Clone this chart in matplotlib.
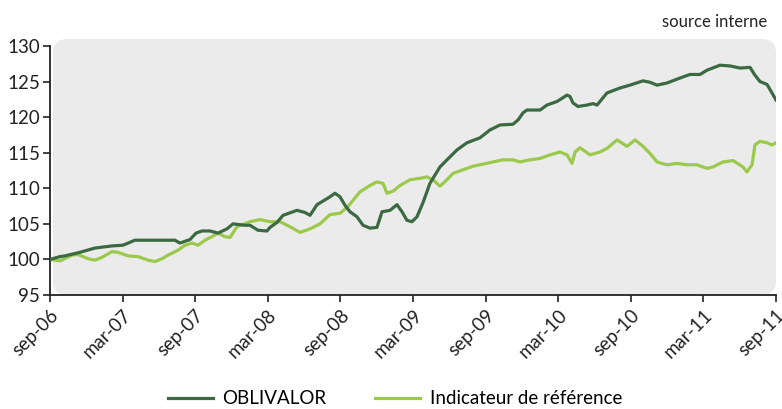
import matplotlib
matplotlib.use("Agg")
import matplotlib.pyplot as plt
from matplotlib.patches import FancyBboxPatch

plt.rcParams['font.family'] = ['Lato', 'DejaVu Sans']

# Months elapsed since September 2006
obli_months = [0.0, 0.83, 1.24, 2.48, 3.72, 5.12, 6.03, 7.02, 10.33, 10.74, 11.57, 12.07,
               12.56, 13.22, 13.88, 14.63, 15.12, 16.12, 16.53, 17.19, 17.93, 18.18, 18.76,
               19.26, 20.41, 21.07, 21.49, 22.07, 23.14, 23.55, 23.97, 24.38, 24.79, 25.37,
               25.87, 26.45, 27.02, 27.44, 28.10, 28.68, 29.09, 29.50, 29.92, 30.33, 30.83,
               31.40, 32.23, 32.81, 33.64, 34.46, 35.54, 36.36, 37.19, 38.26, 38.68, 39.09,
               39.42, 40.50, 41.07, 41.90, 42.73, 42.98, 43.22, 43.64, 44.38, 44.88, 45.21,
               46.03, 47.11, 47.93, 49.01, 49.59, 50.17, 50.99, 52.07, 52.89, 53.72, 54.30,
               55.37, 56.20, 57.02, 57.85, 58.26, 58.68, 59.26, 59.67, 60.0]
obli_values = [100.0, 100.4, 100.5, 101.0, 101.6, 101.9, 102.0, 102.7, 102.7, 102.3, 102.8, 103.7,
               104.0, 104.0, 103.7, 104.3, 105.0, 104.8, 104.8, 104.1, 104.0, 104.5, 105.2,
               106.2, 106.9, 106.6, 106.2, 107.7, 108.8, 109.3, 108.8, 107.6, 106.7, 106.0,
               104.8, 104.4, 104.5, 106.7, 106.9, 107.7, 106.7, 105.5, 105.3, 106.0, 108.0,
               110.7, 113.0, 114.0, 115.4, 116.4, 117.1, 118.2, 118.9, 119.0, 119.6, 120.6,
               121.0, 121.0, 121.7, 122.2, 123.1, 122.9, 122.0, 121.5, 121.7, 121.9, 121.7,
               123.4, 124.1, 124.5, 125.1, 124.9, 124.5, 124.8, 125.5, 126.0, 126.0, 126.6,
               127.3, 127.2, 126.9, 127.0, 125.9, 125.0, 124.6, 123.4, 122.4]

ref_months = [0.0, 0.83, 1.82, 2.31, 3.14, 3.72, 4.30, 5.12, 5.62, 6.45, 7.27, 8.10, 8.68,
              9.26, 9.75, 10.58, 11.16, 11.74, 12.23, 12.81, 13.39, 13.88, 14.46, 14.88,
              15.45, 16.53, 17.36, 18.18, 19.01, 19.83, 20.66, 21.49, 22.31, 23.14, 23.97,
              24.55, 25.04, 25.62, 26.45, 27.02, 27.52, 27.85, 28.35, 28.93, 29.75, 30.58,
              31.16, 31.65, 32.23, 32.81, 33.31, 34.13, 34.96, 35.79, 36.61, 37.44, 38.26,
              38.84, 39.67, 40.50, 41.32, 42.15, 42.73, 43.14, 43.39, 43.80, 44.63, 45.45,
              46.03, 46.86, 47.69, 48.35, 49.01, 49.59, 50.17, 50.99, 51.82, 52.64, 53.47,
              54.30, 54.79, 55.62, 56.45, 57.27, 57.60, 58.02, 58.26, 58.68, 59.26, 59.67, 60.0]
ref_values = [100.0, 99.8, 100.6, 100.7, 100.1, 99.9, 100.3, 101.1, 101.0, 100.5, 100.4, 99.9, 99.7,
              100.1, 100.6, 101.3, 102.0, 102.3, 102.0, 102.7, 103.2, 103.7, 103.2, 103.1,
              104.6, 105.3, 105.6, 105.3, 105.3, 104.6, 103.8, 104.3, 105.0, 106.3, 106.5,
              107.3, 108.3, 109.5, 110.4, 110.9, 110.7, 109.3, 109.6, 110.4, 111.2, 111.4,
              111.6, 111.2, 110.3, 111.2, 112.1, 112.6, 113.1, 113.4, 113.7, 114.0, 114.0,
              113.7, 114.0, 114.2, 114.7, 115.1, 114.7, 113.5, 115.1, 115.7, 114.7, 115.1,
              115.6, 116.8, 115.9, 116.8, 115.9, 114.9, 113.7, 113.3, 113.5, 113.3, 113.3,
              112.8, 113.0, 113.7, 113.9, 113.0, 112.3, 113.3, 116.1, 116.6, 116.4, 116.1, 116.4]

tick_months = [0, 6, 12, 18, 24, 30, 36, 42, 48, 54, 60]
tick_labels = ["sep-06", "mar-07", "sep-07", "mar-08", "sep-08", "mar-09",
               "sep-09", "mar-10", "sep-10", "mar-11", "sep-11"]
y_ticks = [95, 100, 105, 110, 115, 120, 125, 130]

dark_green = "#3b6a42"
light_green = "#9bc94c"

fig = plt.figure(figsize=(7.82, 4.09), dpi=100)
ax = fig.add_axes([50 / 782, 114 / 409, 726 / 782, 249 / 409])
ax.set_facecolor("none")

# Rounded grey backdrop behind the curves
panel = FancyBboxPatch((0.004, 0.0), 0.996, 1.028, boxstyle="round,pad=0,rounding_size=0.02",
                       transform=ax.transAxes, facecolor="#ebebeb", edgecolor="none",
                       clip_on=False, zorder=0, mutation_aspect=726 / 249)
ax.add_patch(panel)

ax.plot(obli_months, obli_values, color=dark_green, lw=2.3, label="OBLIVALOR", zorder=3,
        solid_joinstyle="round")
ax.plot(ref_months, ref_values, color=light_green, lw=2.3, label="Indicateur de référence",
        zorder=2, solid_joinstyle="round")

ax.set_xlim(0, 60)
ax.set_ylim(95, 130)
ax.set_yticks(y_ticks)
ax.set_xticks(tick_months)
ax.set_xticklabels(tick_labels, rotation=45, ha="right", rotation_mode="anchor")
ax.tick_params(axis="both", direction="out", length=5, width=1.2, labelsize=13.5,
               colors="#222222")
ax.tick_params(axis="x", pad=3)
ax.tick_params(axis="y", pad=2)

for side in ("top", "right"):
    ax.spines[side].set_visible(False)
for side in ("left", "bottom"):
    ax.spines[side].set_linewidth(1.3)
    ax.spines[side].set_color("#222222")

fig.text(767 / 782, 1 - 22 / 409, "source interne", ha="right", va="center",
         fontsize=12, color="#222222")

fig.legend(loc="center", bbox_to_anchor=(0.505, 1 - 399 / 409), ncol=2, frameon=False,
           fontsize=13.5, handlelength=2.4, columnspacing=2.6, handletextpad=0.5)

fig.savefig("out.png", dpi=100)
